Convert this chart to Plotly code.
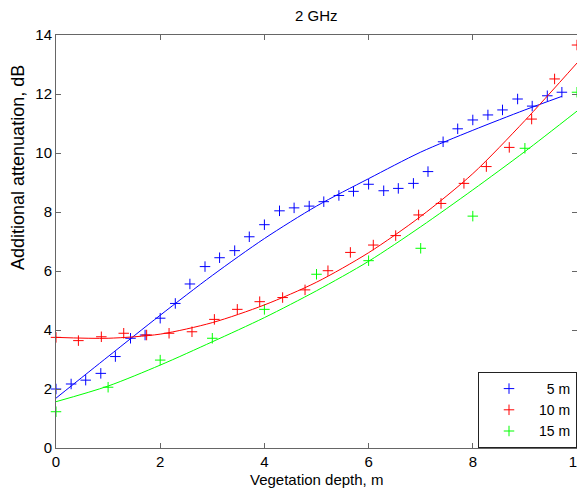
import plotly.graph_objects as go

# ---- data ----
blue_x = [0.00, 0.29, 0.57, 0.86, 1.14, 1.43, 1.71, 2.00, 2.29, 2.57, 2.86, 3.14, 3.43, 3.71,
          4.00, 4.29, 4.57, 4.86, 5.14, 5.43, 5.71, 6.00, 6.29, 6.57, 6.86, 7.14, 7.43, 7.71,
          8.00, 8.29, 8.57, 8.86, 9.14, 9.43, 9.71]
blue_y = [2.00, 2.17, 2.30, 2.53, 3.10, 3.72, 3.83, 4.40, 4.90, 5.56, 6.15, 6.45, 6.69, 7.16,
          7.57, 8.04, 8.14, 8.20, 8.35, 8.56, 8.70, 8.94, 8.72, 8.80, 8.97, 9.37, 10.38, 10.82,
          11.12, 11.29, 11.46, 11.83, 11.59, 11.94, 12.06]

red_x = [0.00, 0.43, 0.87, 1.30, 1.74, 2.17, 2.61, 3.04, 3.48, 3.91, 4.35, 4.78, 5.22, 5.65,
         6.09, 6.52, 6.96, 7.39, 7.83, 8.26, 8.70, 9.13, 9.57, 10.00]
red_y = [3.75, 3.64, 3.77, 3.89, 3.83, 3.89, 3.94, 4.36, 4.70, 4.96, 5.10, 5.36, 6.01, 6.63,
         6.88, 7.20, 7.90, 8.29, 8.97, 9.54, 10.19, 11.15, 12.51, 13.66]

green_x = [0, 1, 2, 3, 4, 5, 6, 7, 8, 9, 10]
green_y = [1.23, 2.06, 2.98, 3.72, 4.70, 5.89, 6.35, 6.77, 7.86, 10.16, 12.06]

# fitted curves
blue_fit_x = [0, 1, 2, 3, 4, 5, 6, 7, 8, 9, 9.71]
blue_fit_y = [1.69, 3.10, 4.50, 5.85, 7.10, 8.20, 9.13, 10.03, 10.77, 11.46, 11.92]
red_fit_x = [0, 1, 2, 3, 4, 5, 6, 7, 8, 9, 10]
red_fit_y = [3.75, 3.72, 3.86, 4.25, 4.85, 5.62, 6.62, 7.85, 9.30, 11.10, 13.05]
green_fit_x = [0, 1, 2, 3, 4, 5, 6, 7, 8, 9, 10]
green_fit_y = [1.57, 2.10, 2.81, 3.60, 4.42, 5.33, 6.33, 7.50, 8.75, 10.05, 11.42]

series_names = ["5 m", "10 m", "15 m"]
title_text = "2 GHz"
x_label = "Vegetation depth, m"
y_label = "Additional attenuation, dB"
x_ticks = [0, 2, 4, 6, 8, 10]
y_ticks = [0, 2, 4, 6, 8, 10, 12, 14]

# ---- figure ----
FONT = "Liberation Sans, Arial, sans-serif"
colors = ["#0000ff", "#ff0000", "#00ff00"]
pts = [(blue_x, blue_y), (red_x, red_y), (green_x, green_y)]
fits = [(blue_fit_x, blue_fit_y), (red_fit_x, red_fit_y), (green_fit_x, green_fit_y)]

fig = go.Figure()
for (px, py), name, c in zip(pts, series_names, colors):
    label = ("\u00a0\u00a0" if len(name) < 4 else "") + name
    fig.add_trace(go.Scatter(
        x=px, y=py, mode="markers", name=label,
        marker=dict(symbol="cross-thin", size=7.5, line=dict(color=c, width=1), color=c),
        showlegend=True, cliponaxis=False))
for (fx, fy), c in zip(fits, colors):
    fig.add_trace(go.Scatter(
        x=fx, y=fy, mode="lines", line=dict(color=c, width=1, shape="spline", smoothing=0.8),
        showlegend=False, hoverinfo="skip"))

axis_common = dict(
    showgrid=False, zeroline=False, showline=True, mirror="ticks",
    linecolor="#666666", linewidth=1, ticks="inside", ticklen=5, tickcolor="#666666",
    tickfont=dict(family=FONT, size=15, color="black"),
    ticklabeloverflow="allow", automargin=False,
)
fig.update_xaxes(range=[0, 10], tickvals=x_ticks, **axis_common)
fig.update_yaxes(range=[0, 14], tickvals=y_ticks, **axis_common)

# page body adds an 8px margin, so the figure is laid out 8px smaller
fig.update_layout(
    width=577, height=483,
    margin=dict(l=48, r=8, t=27, b=43, autoexpand=False),
    paper_bgcolor="white", plot_bgcolor="white",
    font=dict(family=FONT, size=15, color="black"),
    showlegend=True,
    legend=dict(
        x=1, y=0, xanchor="right", yanchor="bottom",
        bordercolor="#222222", borderwidth=1, bgcolor="white",
        font=dict(family=FONT, size=14, color="black"),
        tracegroupgap=0, itemwidth=50,
    ),
    annotations=[
        dict(text=title_text, xref="paper", yref="paper", x=0.5, y=1, yshift=9,
             xanchor="center", yanchor="bottom", showarrow=False,
             font=dict(family=FONT, size=15, color="black")),
        dict(text=x_label, xref="paper", yref="paper", x=0.5, y=0, yshift=-21,
             xanchor="center", yanchor="top", showarrow=False,
             font=dict(family=FONT, size=15, color="black")),
        dict(text=y_label, xref="paper", yref="paper", x=0, y=0.678, xshift=-26,
             xanchor="right", yanchor="middle", textangle=-90, showarrow=False,
             font=dict(family=FONT, size=18, color="black")),
    ],
)

fig.write_html("out.html")
